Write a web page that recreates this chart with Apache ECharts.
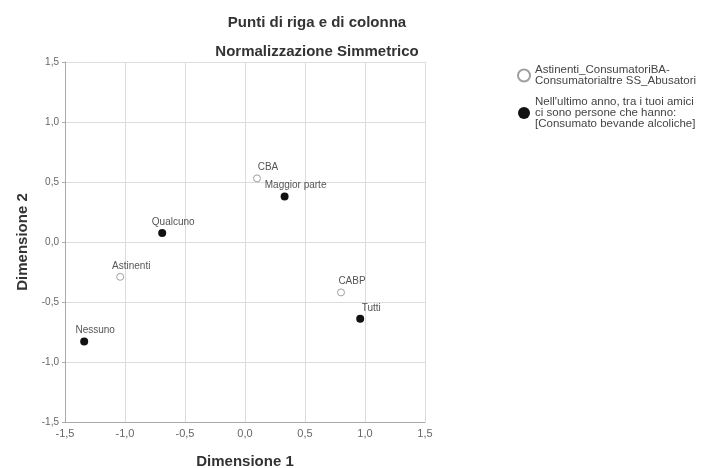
<!DOCTYPE html>
<html>
<head>
<meta charset="utf-8">
<script src="https://cdn.jsdelivr.net/npm/echarts@6/dist/echarts.min.js"></script>
<style>html,body{margin:0;padding:0;background:#fff;}#c{width:713px;height:468px;}</style>
</head>
<body>
<div id="c"></div>
<script>
var titleText = 'Punti di riga e di colonna';
var subtitleText = 'Normalizzazione Simmetrico';
var xAxisName = 'Dimensione 1';
var yAxisName = 'Dimensione 2';
var axisTicks = [-1.5, -1.0, -0.5, 0.0, 0.5, 1.0, 1.5];

var rowSeriesName = 'Astinenti_ConsumatoriBA-\nConsumatorialtre SS_Abusatori';
var rowLabels = ['Astinenti', 'CBA', 'CABP'];
var rowX = [-1.04, 0.10, 0.80];
var rowY = [-0.29, 0.53, -0.42];

var colSeriesName = "Nell'ultimo anno, tra i tuoi amici\nci sono persone che hanno:\n[Consumato bevande alcoliche]";
var colLabels = ['Nessuno', 'Qualcuno', 'Maggior parte', 'Tutti'];
var colX = [-1.34, -0.69, 0.33, 0.96];
var colY = [-0.83, 0.075, 0.38, -0.64];

function pts(xs, ys, labels) {
  return xs.map(function (x, i) { return { value: [x, ys[i]], name: labels[i] }; });
}
function fmt(v) { return v.toFixed(1).replace('.', ','); }

var FONT = 'Liberation Sans, Arial, sans-serif';
var chart = echarts.init(document.getElementById('c'));
var labelStyle = {
  show: true, position: 'top', distance: 2, offset: [11, 0],
  formatter: function (p) { return p.name; },
  fontSize: 10, color: '#555', fontFamily: FONT
};
chart.setOption({
  animation: false,
  backgroundColor: '#fff',
  title: [
    { text: titleText, left: 312, textAlign: 'center', top: 10,
      textStyle: { fontSize: 15, fontWeight: 'bold', color: '#333', fontFamily: FONT } },
    { text: subtitleText, left: 312, textAlign: 'center', top: 39,
      textStyle: { fontSize: 15, fontWeight: 'bold', color: '#333', fontFamily: FONT } }
  ],
  legend: {
    orient: 'vertical', left: 512, top: 59, itemGap: 9, itemWidth: 12, itemHeight: 12, icon: 'circle',
    textStyle: { fontSize: 11.5, lineHeight: 11, color: '#444', fontFamily: FONT },
    data: [rowSeriesName, colSeriesName]
  },
  grid: { left: 65, right: 288, top: 62, bottom: 46, containLabel: false, outerBoundsMode: 'none' },
  xAxis: {
    type: 'value', min: -1.5, max: 1.5, interval: 0.5,
    name: xAxisName, nameLocation: 'middle', nameGap: 32,
    nameTextStyle: { fontSize: 15, fontWeight: 'bold', color: '#333', fontFamily: FONT },
    axisLine: { show: true, onZero: false, lineStyle: { color: '#aaa' } },
    axisTick: { show: false },
    axisLabel: { formatter: fmt, fontSize: 11, color: '#666', margin: 6, fontFamily: FONT },
    splitLine: { show: true, lineStyle: { color: '#dcdcdc' } }
  },
  yAxis: {
    type: 'value', min: -1.5, max: 1.5, interval: 0.5,
    name: yAxisName, nameLocation: 'middle', nameGap: 35,
    nameTextStyle: { fontSize: 15, fontWeight: 'bold', color: '#333', fontFamily: FONT },
    axisLine: { show: true, onZero: false, lineStyle: { color: '#aaa' } },
    axisTick: { show: true, length: 3, lineStyle: { color: '#aaa' } },
    axisLabel: { formatter: fmt, fontSize: 10, color: '#666', margin: 6, fontFamily: FONT },
    splitLine: { show: true, lineStyle: { color: '#dcdcdc' } }
  },
  series: [
    { name: rowSeriesName, type: 'scatter', symbol: 'circle', symbolSize: 7,
      itemStyle: { color: '#fff', borderColor: '#a0a0a0', borderWidth: 1, opacity: 1 },
      label: labelStyle, data: pts(rowX, rowY, rowLabels) },
    { name: colSeriesName, type: 'scatter', symbol: 'circle', symbolSize: 8,
      itemStyle: { color: '#111', opacity: 1 },
      label: labelStyle, data: pts(colX, colY, colLabels) }
  ]
});
</script>
</body>
</html>
